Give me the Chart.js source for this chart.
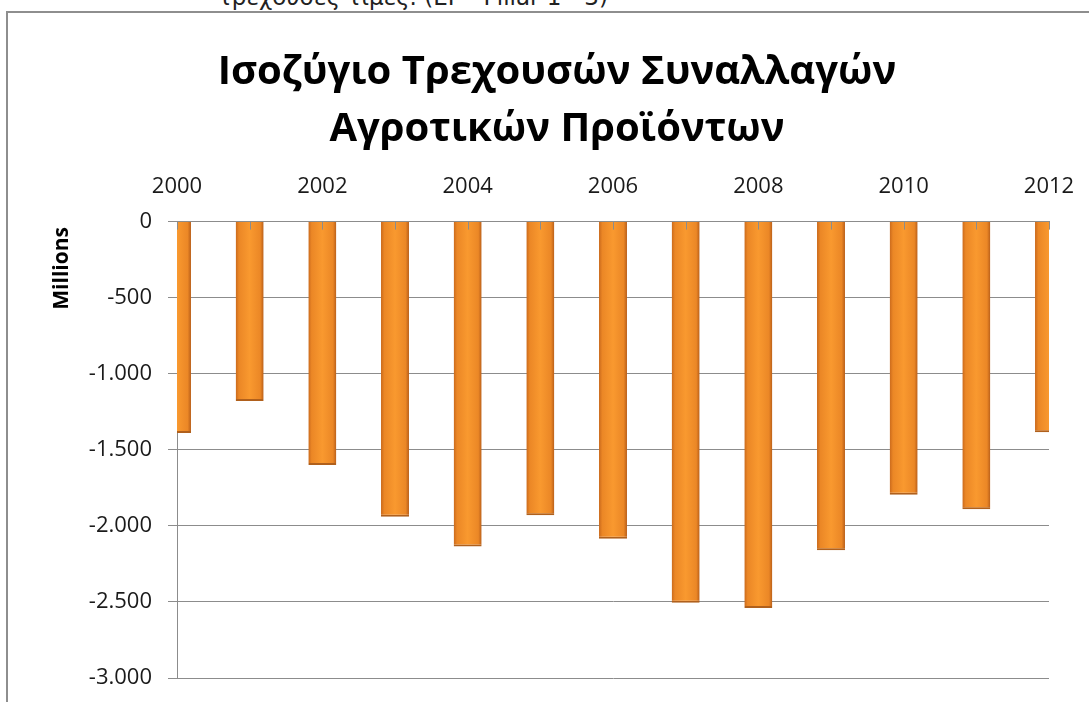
<!DOCTYPE html>
<html>
<head>
<meta charset="utf-8">
<script src="https://cdn.jsdelivr.net/npm/chart.js@4/dist/chart.umd.min.js"></script>
<style>
  html, body { margin: 0; padding: 0; background: #fff; overflow: hidden; }
  body { width: 1089px; height: 702px; position: relative; }
  #frame { position: absolute; left: 6px; top: 11px; width: 2000px; height: 2000px; border: 2px solid #8e8e8e; }
  #note { position: absolute; left: 218px; top: -15px; font-family: "DejaVu Sans", sans-serif; font-size: 23px; line-height: 24px; color: #222; white-space: nowrap; }
  #balanceChart { position: absolute; left: 0; top: 0; }
</style>
</head>
<body>
<div id="note">τρεχουσες τιμες. (ΕΓ - Pillar 1 - 3)</div>
<div id="frame"></div>
<canvas id="balanceChart" width="1089" height="702"></canvas>
<script>
// έτη και ισοζύγιο (εκατ. ευρώ)
const years = ['2000', '2001', '2002', '2003', '2004', '2005', '2006', '2007', '2008', '2009', '2010', '2011', '2012'];
const balance = [-1390, -1180, -1600, -1940, -2135, -1930, -2085, -2505, -2540, -2160, -1795, -1890, -1385];
const titleLines = ['Ισοζύγιο Τρεχουσών Συναλλαγών', 'Αγροτικών Προϊόντων'];

function formatThousands(v) {
  const s = String(Math.abs(v)).replace(/\B(?=(\d{3})+(?!\d))/g, '.');
  return v < 0 ? '-' + s : s;
}

// μικρές γραμμές υποδιαίρεσης του άξονα x προς τα μέσα
const innerTicks = {
  id: 'innerTicks',
  afterDatasetsDraw(chart) {
    const x = chart.scales.x;
    const top = chart.chartArea.top;
    const c = chart.ctx;
    c.save();
    c.strokeStyle = '#8c8c8c';
    c.lineWidth = 1;
    for (let i = 0; i < years.length; i++) {
      const px = Math.round(x.getPixelForTick(i)) + 0.5;
      c.beginPath();
      c.moveTo(px, top);
      c.lineTo(px, top + 8);
      c.stroke();
    }
    c.restore();
  }
};

const ctx = document.getElementById('balanceChart').getContext('2d');

window.balanceChart = new Chart(ctx, {
  type: 'bar',
  data: {
    labels: years,
    datasets: [{
      label: 'Ισοζύγιο',
      data: balance,
      backgroundColor: function(context) {
        const chart = context.chart;
        if (!chart.chartArea || !chart.scales.x) return '#F39027';
        const cx = chart.scales.x.getPixelForValue(context.dataIndex);
        const g = chart.ctx.createLinearGradient(cx - 14, 0, cx + 14, 0);
        g.addColorStop(0, '#C9691C');
        g.addColorStop(0.12, '#EB8726');
        g.addColorStop(0.5, '#F9992F');
        g.addColorStop(0.88, '#EB8726');
        g.addColorStop(1, '#B85E19');
        return g;
      },
      borderColor: '#B0601C',
      borderWidth: { top: 0, left: 0, right: 0, bottom: 2 },
      borderSkipped: 'start',
      barPercentage: 0.385,
      categoryPercentage: 1
    }]
  },
  options: {
    responsive: false,
    animation: false,
    layout: { padding: { left: 65, right: 40, top: 0, bottom: 24 } },
    plugins: {
      legend: { display: false },
      tooltip: { enabled: false },
      title: {
        display: true,
        text: titleLines,
        color: '#000',
        font: { family: 'Open Sans', size: 40, weight: 'bold', lineHeight: 1.42 },
        padding: { top: 44, bottom: 12 }
      }
    },
    scales: {
      x: {
        position: 'top',
        offset: false,
        grid: { display: false },
        border: { display: true, color: '#8c8c8c' },
        ticks: {
          autoSkip: false,
          maxRotation: 0,
          padding: 14,
          color: '#1a1a1a',
          font: { family: 'Open Sans', size: 22 },
          callback: function(val, i) { return i % 2 === 0 ? years[i] : ''; }
        },
        afterFit: function(scale) { scale.height = 52; }
      },
      y: {
        min: -3000,
        max: 0,
        grid: { color: '#8c8c8c', tickLength: 9 },
        border: { display: true, color: '#8c8c8c' },
        ticks: {
          stepSize: 500,
          padding: 16,
          color: '#1a1a1a',
          font: { family: 'Open Sans', size: 22 },
          callback: function(v) { return formatThousands(v); }
        },
        title: {
          display: true,
          text: 'Millions ',
          align: 'end',
          color: '#000',
          font: { family: 'Open Sans', size: 21, weight: 'bold' },
          padding: { top: -16, bottom: 0 }
        },
        afterFit: function(scale) {
          scale.width = 112;
          scale.paddingTop = 0;
          scale.paddingBottom = 0;
        }
      }
    }
  },
  plugins: [innerTicks]
});
</script>
</body>
</html>
